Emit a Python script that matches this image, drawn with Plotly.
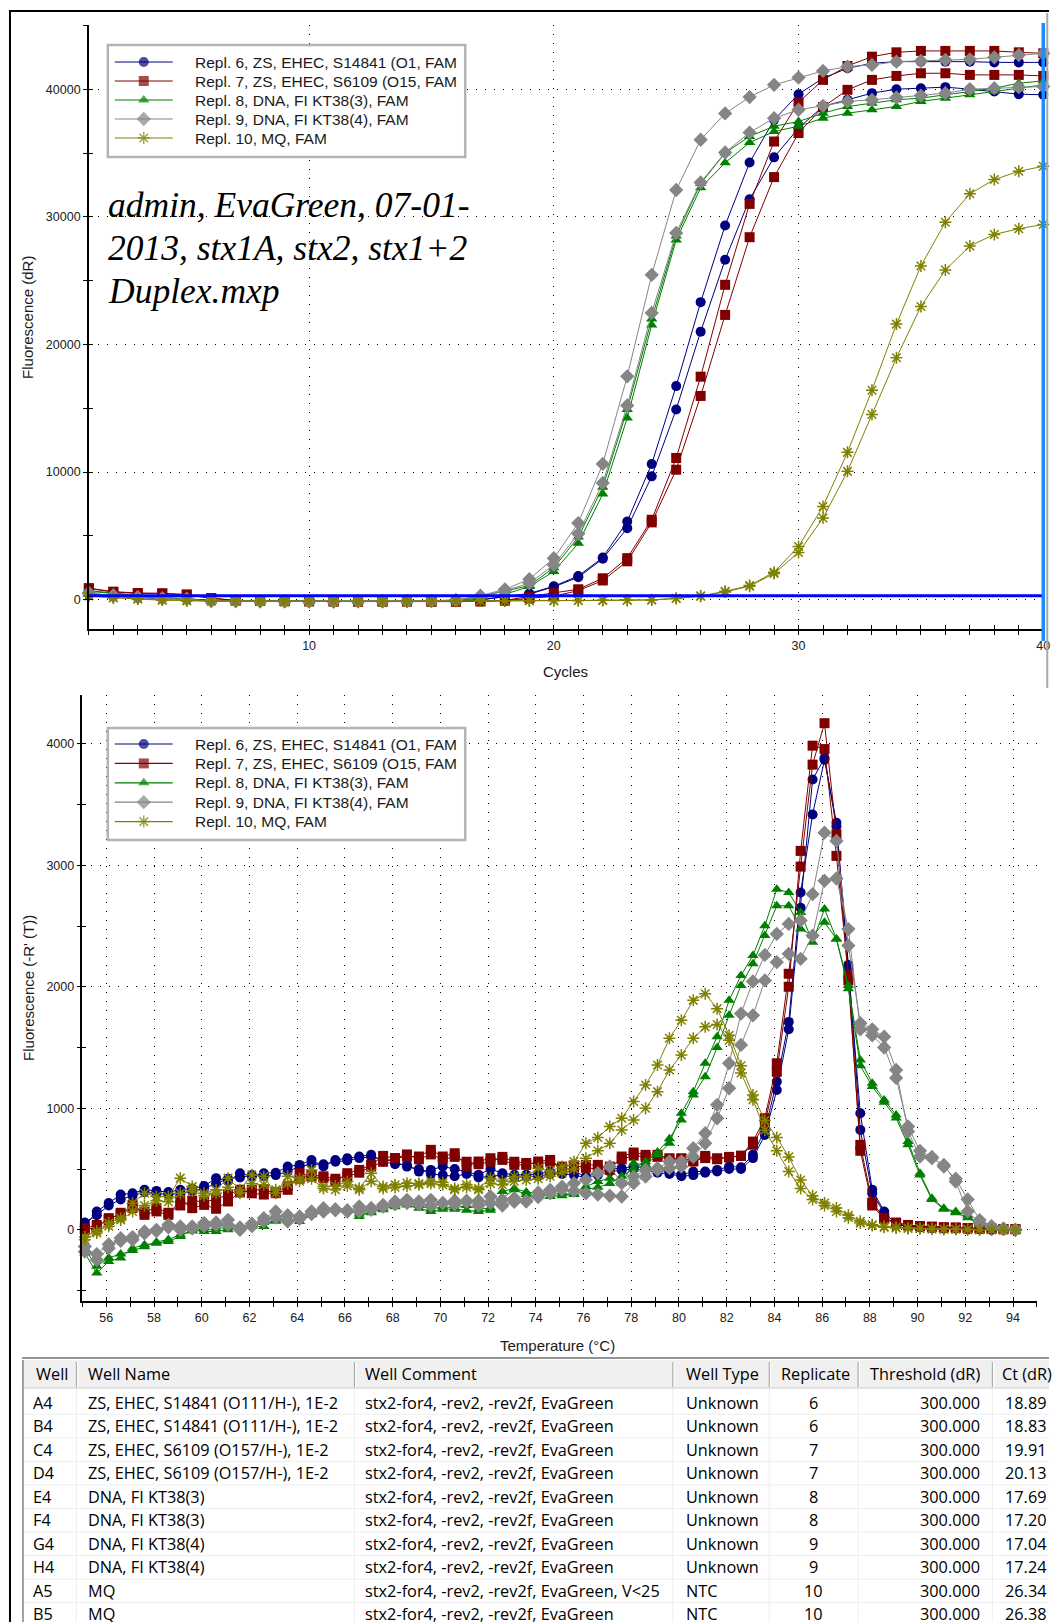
import plotly.graph_objects as go

W, H = 1056, 1622
SX = 1.005  # horizontal stretch of the pixel layout grid

# ---------------- amplification data (dR per cycle) ----------------
cycles = list(range(1, 41))

amp_A4 = [420, 260, 150, 90, 30, -90, -110, -130, -120, -140,
          -150, -140, -150, -130, -120, -100, -20, 230, 430, 1000,
          1750, 3200, 5600, 9660, 14900, 21000, 26630, 31380, 34660, 36950,
          38650, 39170, 39690, 40000, 40080, 40160, 40000, 39820, 39610, 39560]
amp_B4 = [480, 300, 180, 110, 40, -80, -100, -120, -130, -130,
          -140, -150, -140, -130, -110, -90, -10, 250, 480, 1050,
          1850, 3300, 6120, 10630, 16730, 23310, 29320, 34250, 37600, 39610,
          40860, 41640, 42030, 42160, 42160, 42160, 42160, 42100, 42100, 42100]
amp_C4 = [900, 620, 520, 500, 400, 120, -60, -100, -120, -130,
          -140, -150, -150, -140, -150, -150, -130, -60, 240, 500,
          810, 1670, 3250, 6260, 11100, 17470, 24670, 31010, 35900, 38960,
          40730, 41820, 42550, 42890, 43000, 43000, 43000, 43000, 42890, 42810]
amp_D4 = [860, 600, 480, 460, 380, 100, -70, -110, -130, -140,
          -150, -160, -150, -150, -160, -160, -140, -80, 100, 270,
          700, 1500, 3000, 6050, 10180, 15960, 22310, 28400, 33110, 36560,
          38600, 39950, 40730, 41040, 41250, 41250, 41120, 41120, 41120, 41040]
amp_E4 = [700, 520, 300, 150, 80, -100, -130, -140, -150, -150,
          -150, -140, -140, -130, -120, -60, 130, 420, 1020, 2200,
          4420, 8270, 14240, 21530, 28190, 32270, 34230, 35820, 36680, 37100,
          37730, 38120, 38380, 38650, 39040, 39300, 39560, 39820, 40080, 40340]
amp_F4 = [650, 480, 280, 140, 60, -110, -120, -130, -140, -150,
          -150, -150, -140, -130, -110, -40, 240, 650, 1100, 2500,
          4900, 8800, 14900, 22000, 28500, 32600, 35000, 36300, 37100, 37470,
          38120, 38640, 38900, 39170, 39300, 39560, 39820, 40080, 40470, 40650]
amp_G4 = [520, 320, 200, 100, 50, -100, -120, -130, -140, -150,
          -150, -140, -130, -120, -100, -40, 310, 800, 1600, 3250,
          6000, 10630, 17500, 25450, 32100, 36040, 38100, 39380, 40340, 40910,
          41430, 41770, 41900, 42160, 42210, 42290, 42340, 42500, 42680, 42810]
amp_H4 = [500, 300, 180, 90, 40, -100, -120, -130, -140, -140,
          -150, -140, -130, -120, -100, -50, 230, 700, 1280, 2720,
          5160, 9140, 15210, 22470, 28740, 32690, 35040, 36600, 37730, 38390,
          38700, 39040, 39170, 39350, 39500, 39690, 40000, 40080, 40160, 40210]
amp_A5 = [300, 150, 50, -30, -80, -110, -120, -130, -130, -130,
          -130, -130, -130, -120, -120, -110, -110, -100, -90, -80,
          -70, -60, -50, -20, 100, 290, 650, 1100, 2150, 4160,
          7300, 11540, 16410, 21590, 26150, 29580, 31800, 32920, 33570, 33960]
amp_B5 = [280, 140, 40, -40, -90, -120, -130, -140, -140, -140,
          -140, -140, -140, -130, -130, -120, -110, -100, -90, -80,
          -70, -60, -50, -30, 80, 260, 600, 1050, 2050, 3690,
          6390, 10050, 14500, 18950, 22970, 25830, 27710, 28620, 29060, 29400]

# ---------------- melt curve data (-R'(T)) ----------------
temps = [55.1, 55.6, 56.1, 56.6, 57.1, 57.6, 58.1, 58.6, 59.1, 59.6,
         60.1, 60.6, 61.1, 61.6, 62.1, 62.6, 63.1, 63.6, 64.1, 64.6,
         65.1, 65.6, 66.1, 66.6, 67.1, 67.6, 68.1, 68.6, 69.1, 69.6,
         70.1, 70.6, 71.1, 71.6, 72.1, 72.6, 73.1, 73.6, 74.1, 74.6,
         75.1, 75.6, 76.1, 76.6, 77.1, 77.6, 78.1, 78.6, 79.1, 79.6,
         80.1, 80.6, 81.1, 81.6, 82.1, 82.6, 83.1, 83.6, 84.1, 84.6,
         85.1, 85.6, 86.1, 86.6, 87.1, 87.6, 88.1, 88.6, 89.1, 89.6,
         90.1, 90.6, 91.1, 91.6, 92.1, 92.6, 93.1, 93.6, 94.1]

melt_A4 = [30, 150, 220, 290, 300, 330, 320, 310, 330, 340,
           360, 425, 400, 466, 440, 466, 470, 521, 534, 575,
           521, 575, 589, 603, 617, 560, 540, 534, 479, 493,
           521, 500, 479, 452, 500, 466, 452, 452, 460, 479,
           470, 480, 438, 470, 500, 507, 520, 510, 490, 479,
           452, 479, 480, 493, 521, 515, 617, 822, 1219, 1711,
           2776, 3418, 3869, 3350, 2148, 959, 329, 151, 41, 30,
           20, 15, 10, 10, 5, 5, 0, 0, 0]
melt_B4 = [60, 120, 200, 250, 280, 310, 300, 290, 300, 320,
           340, 380, 420, 430, 450, 440, 450, 480, 520, 540,
           540, 560, 570, 590, 600, 580, 560, 520, 500, 460,
           450, 440, 460, 430, 440, 450, 430, 440, 440, 460,
           460, 450, 430, 450, 480, 490, 500, 490, 470, 460,
           440, 450, 470, 480, 500, 500, 590, 780, 1150, 1650,
           2650, 3705, 3883, 3320, 2180, 822, 300, 140, 50, 30,
           20, 15, 10, 10, 5, 5, 0, 0, 0]
melt_C4 = [0, 20, 96, 123, 205, 123, 151, 123, 247, 178,
           205, 173, 233, 307, 329, 329, 301, 329, 466, 438,
           425, 397, 466, 493, 534, 608, 589, 603, 603, 658,
           603, 630, 521, 562, 589, 575, 534, 534, 562, 575,
           493, 510, 534, 534, 493, 603, 636, 617, 617, 589,
           589, 562, 608, 589, 595, 608, 726, 918, 1370, 2107,
           2989, 3828, 4169, 3254, 2052, 699, 225, 96, 60, 40,
           30, 25, 20, 20, 15, 10, 10, 5, 5]
melt_D4 = [10, 40, 80, 140, 180, 150, 180, 140, 200, 240,
           230, 250, 290, 330, 300, 290, 310, 360, 420, 450,
           440, 420, 440, 470, 520, 560, 590, 620, 580, 620,
           580, 600, 560, 540, 560, 600, 560, 550, 540, 560,
           520, 530, 510, 500, 520, 580, 610, 600, 600, 580,
           580, 570, 590, 580, 600, 610, 700, 880, 1300, 2000,
           3118, 3984, 3956, 3077, 2100, 650, 200, 90, 55, 35,
           30, 25, 20, 15, 15, 10, 10, 5, 5]
melt_E4 = [-192, -356, -260, -233, -151, -123, -110, -96, -55, 0,
           -14, -14, 0, 14, 27, 27, 82, 82, 69, 123,
           164, 164, 178, 110, 151, 164, 205, 205, 178, 151,
           170, 170, 160, 151, 160, 315, 342, 310, 301, 274,
           280, 300, 356, 397, 425, 384, 548, 534, 617, 712,
           959, 1137, 1370, 1589, 1888, 2093, 2257, 2503, 2803, 2776,
           2612, 2366, 2640, 2394, 2011, 1397, 1206, 1069, 945, 726,
           466, 260, 178, 151, 120, 41, 20, 10, 0]
melt_F4 = [-160, -300, -230, -200, -170, -140, -100, -80, -40, -10,
           0, 10, 20, 30, 40, 60, 70, 100, 120, 130,
           150, 170, 160, 130, 140, 180, 190, 220, 200, 170,
           190, 180, 200, 170, 180, 260, 330, 290, 280, 300,
           300, 290, 330, 350, 380, 440, 500, 560, 640, 750,
           904, 1110, 1260, 1500, 1765, 2011, 2189, 2421, 2667, 2667,
           2476, 2421, 2530, 2394, 1984, 1350, 1180, 1050, 920, 700,
           450, 250, 170, 140, 100, 40, 20, 10, 0]
melt_G4 = [-137, -247, -151, -68, -82, -14, 0, 41, 27, 27,
           55, 40, 82, 0, 30, 96, 151, 69, 110, 151,
           178, 160, 150, 192, 164, 205, 233, 247, 233, 247,
           219, 240, 240, 200, 274, 247, 260, 233, 307, 329,
           356, 384, 411, 466, 521, 384, 438, 493, 507, 562,
           562, 671, 795, 1028, 1370, 1779, 2044, 2262, 2435, 2517,
           2546, 2762, 3268, 3200, 2339, 1700, 1650, 1589, 1315, 808,
           603, 589, 534, 397, 151, 55, 27, 10, 0]
melt_H4 = [-180, -200, -120, -90, -60, -30, -10, 20, 0, 10,
           30, 60, 40, 20, 50, 70, 100, 120, 90, 130,
           150, 170, 160, 150, 180, 190, 210, 220, 210, 200,
           220, 210, 230, 240, 220, 200, 230, 240, 270, 300,
           330, 320, 300, 290, 280, 274, 384, 438, 493, 507,
           520, 600, 712, 918, 1165, 1521, 1765, 2052, 2202, 2271,
           2230, 2421, 2872, 2891, 2475, 1650, 1600, 1500, 1250, 850,
           650, 600, 520, 420, 250, 80, 30, 10, 0]
melt_A5 = [-82, -27, 55, 96, 219, 301, 274, 274, 425, 356,
           301, 329, 425, 329, 452, 438, 301, 440, 420, 493,
           356, 360, 397, 342, 466, 356, 370, 384, 380, 397,
           390, 329, 370, 340, 425, 400, 438, 438, 507, 480,
           521, 562, 712, 760, 849, 918, 1055, 1192, 1356, 1576,
           1724, 1888, 1943, 1820, 1600, 1350, 1110, 900, 760, 600,
           410, 280, 220, 180, 120, 70, 41, 27, 20, 15,
           10, 10, 5, 5, 5, 0, 0, 0, 0]
melt_B5 = [-60, -10, 30, 80, 150, 200, 240, 230, 300, 320,
           280, 300, 350, 300, 380, 370, 330, 380, 400, 420,
           340, 330, 360, 330, 400, 340, 350, 360, 370, 380,
           370, 340, 350, 330, 380, 370, 400, 410, 420, 440,
           470, 500, 589, 650, 712, 822, 904, 1000, 1137, 1315,
           1439, 1576, 1670, 1690, 1560, 1290, 1070, 820, 650, 480,
           340, 250, 200, 150, 100, 55, 35, 20, 15, 10,
           10, 5, 5, 5, 0, 0, 0, 0, 0]

# ---------------- well table ----------------
wells = ["A4", "B4", "C4", "D4", "E4", "F4", "G4", "H4", "A5", "B5"]
well_names = ["ZS, EHEC, S14841 (O111/H-), 1E-2", "ZS, EHEC, S14841 (O111/H-), 1E-2",
              "ZS, EHEC, S6109 (O157/H-), 1E-2", "ZS, EHEC, S6109 (O157/H-), 1E-2",
              "DNA, FI KT38(3)", "DNA, FI KT38(3)", "DNA, FI KT38(4)", "DNA, FI KT38(4)",
              "MQ", "MQ"]
well_comments = ["stx2-for4, -rev2, -rev2f, EvaGreen"] * 8 + \
                ["stx2-for4, -rev2, -rev2f, EvaGreen, V<25", "stx2-for4, -rev2, -rev2f, EvaGreen"]
well_types = ["Unknown"] * 8 + ["NTC", "NTC"]
replicates = [6, 6, 7, 7, 8, 8, 9, 9, 10, 10]
thresholds = [300.0] * 10
ct_values = [18.89, 18.83, 19.91, 20.13, 17.69, 17.20, 17.04, 17.24, 26.34, 26.38]
table_headers = ["Well", "Well Name", "Well Comment", "Well Type", "Replicate",
                 "Threshold (dR)", "Ct (dR)"]

amp_series = [amp_A4, amp_B4, amp_C4, amp_D4, amp_E4, amp_F4, amp_G4, amp_H4, amp_A5, amp_B5]
melt_series = [melt_A4, melt_B4, melt_C4, melt_D4, melt_E4, melt_F4, melt_G4, melt_H4, melt_A5, melt_B5]

legend_reps = [6, 7, 8, 9, 10]
legend_labels = ["Repl. 6, ZS, EHEC, S14841 (O1, FAM",
                 "Repl. 7, ZS, EHEC, S6109 (O15, FAM",
                 "Repl. 8, DNA, FI KT38(3), FAM",
                 "Repl. 9, DNA, FI KT38(4), FAM",
                 "Repl. 10, MQ, FAM"]
run_info_lines = ["admin, EvaGreen, 07-01-", "2013, stx1A, stx2, stx1+2", "Duplex.mxp"]

STYLE = {
    6: dict(color="#000080", symbol="circle", size=10),
    7: dict(color="#800000", symbol="square", size=10),
    8: dict(color="#008000", symbol="triangle-up", size=10),
    9: dict(color="#858585", symbol="diamond", size=11),
    10: dict(color="#808000", symbol="asterisk-open", size=10),
}

SANS = "Liberation Sans, Arial, sans-serif"
TXT = "#1a1a1a"


def X(v):
    """Horizontal pixel position on the layout grid."""
    return min(v * SX, W)


def marker_for(rep, sizes=None):
    st = STYLE[rep]
    return dict(symbol=st["symbol"], color=st["color"],
                size=st["size"] if sizes is None else sizes,
                line=dict(color=st["color"], width=1.5 if "asterisk" in st["symbol"] else 0))


def dom_x(a, b):
    return [X(a) / W, X(b) / W]


def dom_y(top, bottom):
    return [1 - bottom / H, 1 - top / H]


fig = go.Figure()

# amplification curves
for i, well in enumerate(wells):
    rep = replicates[i]
    fig.add_trace(go.Scatter(x=cycles, y=amp_series[i], mode="lines+markers", name=well,
                             line=dict(color=STYLE[rep]["color"], width=1),
                             marker=marker_for(rep), cliponaxis=False,
                             xaxis="x", yaxis="y", showlegend=False, hoverinfo="skip"))
# threshold line
fig.add_trace(go.Scatter(x=[cycles[0], cycles[-1]], y=[thresholds[0], thresholds[0]],
                         mode="lines", line=dict(color="#0000ff", width=3),
                         xaxis="x", yaxis="y", showlegend=False, hoverinfo="skip",
                         cliponaxis=False))

# melt curves
for i, well in enumerate(wells):
    rep = replicates[i]
    fig.add_trace(go.Scatter(x=temps, y=melt_series[i], mode="lines+markers", name=well,
                             line=dict(color=STYLE[rep]["color"], width=1),
                             marker=marker_for(rep), cliponaxis=False,
                             xaxis="x2", yaxis="y2", showlegend=False, hoverinfo="skip"))

# empty traces so that the tick-mirroring axes exist
for xa, ya in [("x4", "y"), ("x", "y4"), ("x5", "y2"), ("x2", "y5")]:
    fig.add_trace(go.Scatter(x=[None], y=[None], xaxis=xa, yaxis=ya,
                             showlegend=False, hoverinfo="skip"))

shapes = []
annotations = []


def pix_shape(x0, x1, **kw):
    d = dict(xref="x3", yref="y3", x0=X(x0), x1=X(x1))
    d.update(kw)
    shapes.append(d)


def pix_text(x, y, text, size=15.5, family=SANS, color=TXT, xanchor="left",
             yanchor="middle", **kw):
    annotations.append(dict(xref="x3", yref="y3", x=X(x), y=y, text=text,
                            showarrow=False, xanchor=xanchor, yanchor=yanchor,
                            font=dict(size=size, family=family, color=color), **kw))


# legend boxes drawn for both charts
for box_top, row0, pitch in [(45, 62, 19.0), (728, 744, 19.4)]:
    pix_shape(108, 466, type="rect", y0=box_top, y1=box_top + 112,
              fillcolor="white", line=dict(color="#b4b4b4", width=2.5), layer="below")
    for j, rep in enumerate(legend_reps):
        yy = row0 + pitch * j
        fig.add_trace(go.Scatter(x=[X(115), X(144), X(173)], y=[yy, yy, yy],
                                 mode="lines+markers",
                                 line=dict(color=STYLE[rep]["color"], width=1.2),
                                 marker=marker_for(rep, sizes=[0, STYLE[rep]["size"], 0]),
                                 xaxis="x3", yaxis="y3", showlegend=False,
                                 hoverinfo="skip", cliponaxis=False))
        pix_text(193, yy, legend_labels[j], size=15.5)

# run information text, one line each
for k, line in enumerate(run_info_lines):
    pix_text(106, 204.5 + 43.2 * k, f"<i>{line}</i>", size=35.5,
             family="Liberation Serif, Times New Roman, serif", color="#000")

# axis titles
pix_text(27, 317, "Fluorescence (dR)", size=15, xanchor="center", textangle=-90)
pix_text(566, 671, "Cycles", size=15, xanchor="center")
pix_text(28, 988, "Fluorescence (-R' (T))", size=15, xanchor="center", textangle=-90)
pix_text(558, 1345, "Temperature (°C)", size=15, xanchor="center")

# cursor at the last cycle
shapes.append(dict(type="line", xref="x domain", yref="y3", x0=1, x1=1, y0=23, y1=641,
                   line=dict(color="#1a8cff", width=3.5), layer="above"))

# window frame
pix_shape(9, W, type="line", y0=11, y1=11, line=dict(color="#000", width=2), layer="above")
pix_shape(10, 10, type="line", y0=10, y1=H, line=dict(color="#000", width=2), layer="above")
pix_shape(1049, 1049, type="line", y0=13, y1=688, line=dict(color="#a8a8a8", width=2), layer="above")
pix_shape(22, W, type="line", y0=1358, y1=1358, line=dict(color="#707070", width=1.5), layer="above")

# ---------------- table ----------------
col_bounds = [23, 76.5, 355, 674, 770.5, 859.5, 994]
head_top, head_bot = 1360, 1388
row_y0, row_h = 1402.5, 23.55
pix_shape(23, W, type="rect", y0=head_top, y1=head_bot, fillcolor="#f0f0f0",
          line=dict(width=0), layer="above")
pix_shape(23, W, type="line", y0=head_bot, y1=head_bot,
          line=dict(color="#d0d0d0", width=1), layer="above")
for xb in col_bounds[1:]:
    pix_shape(xb, xb, type="line", y0=head_top + 2, y1=head_bot - 1,
              line=dict(color="#a0a0a0", width=1), layer="above")
    pix_shape(xb + 1.5, xb + 1.5, type="line", y0=head_top + 2, y1=head_bot - 1,
              line=dict(color="#ffffff", width=1), layer="above")
    pix_shape(xb, xb, type="line", y0=head_bot + 1, y1=H,
              line=dict(color="#eeeeee", width=1), layer="above")
for r in range(len(wells)):
    yb = row_y0 + row_h * r + row_h / 2
    pix_shape(23, W, type="line", y0=yb, y1=yb,
              line=dict(color="#eeeeee", width=1), layer="above")
pix_shape(23, 23, type="line", y0=head_top, y1=H,
          line=dict(color="#828282", width=1.5), layer="above")

TFONT = "Open Sans, Noto Sans, sans-serif"
TSIZE = 16.3
head_x = [34, 86, 364, 685, 780, 869, 1002]
for hx, htxt in zip(head_x, table_headers):
    pix_text(hx, (head_top + head_bot) / 2, htxt, size=TSIZE, family=TFONT, color="#000")

for r in range(len(wells)):
    yy = row_y0 + row_h * r
    pix_text(31, yy, wells[r], size=TSIZE, family=TFONT, color="#000")
    pix_text(86, yy, well_names[r], size=TSIZE, family=TFONT, color="#000")
    pix_text(364, yy, well_comments[r], size=TSIZE, family=TFONT, color="#000")
    pix_text(685, yy, well_types[r], size=TSIZE, family=TFONT, color="#000")
    pix_text(815, yy, str(replicates[r]), size=TSIZE, family=TFONT, color="#000",
             xanchor="center")
    pix_text(984, yy, f"{thresholds[r]:.3f}", size=TSIZE, family=TFONT, color="#000",
             xanchor="right")
    pix_text(1056, yy, f"{ct_values[r]:.2f}", size=TSIZE, family=TFONT, color="#000",
             xanchor="right")

# ---------------- axes ----------------
GRID = dict(showgrid=True, gridcolor="#000", gridwidth=1, griddash="1px,8px")
TICKF = dict(family=SANS, size=12.5, color="#202020")


def main_axis(domain, rng, dtick, minor_dtick, anchor, **kw):
    d = dict(domain=domain, range=rng, anchor=anchor, tickmode="linear", tick0=0, dtick=dtick,
             tickformat="d", ticklabeloverflow="allow",
             ticks="outside", ticklen=4, tickwidth=1, tickcolor="#000",
             minor=dict(dtick=minor_dtick, tick0=0, ticks="outside", ticklen=4,
                        tickwidth=1, tickcolor="#000", showgrid=False),
             showline=True, linecolor="#000", linewidth=1.5, zeroline=False,
             tickfont=TICKF, fixedrange=True)
    d.update(GRID)
    d.update(kw)
    return d


def mirror_axis(base, rng, dtick, minor_dtick, anchor):
    return dict(overlaying=base, range=rng, anchor=anchor, tickmode="linear", tick0=0,
                dtick=dtick, ticks="inside", ticklen=4, tickwidth=1, tickcolor="#000",
                minor=dict(dtick=minor_dtick, tick0=0, ticks="inside", ticklen=4,
                           tickwidth=1, tickcolor="#000", showgrid=False),
                showticklabels=False, showgrid=False, showline=False, zeroline=False,
                fixedrange=True)


top_x_rng = [1, 40]
top_y_rng = [-2304, 45031]
bot_x_rng = [55, 95]
bot_y_rng = [-586, 4401]

fig.update_layout(
    width=W, height=H,
    margin=dict(l=0, r=0, t=0, b=0),
    paper_bgcolor="white", plot_bgcolor="rgba(0,0,0,0)",
    showlegend=False,
    xaxis=main_axis(dom_x(89, 1045), top_x_rng, 10, 1, "y"),
    yaxis=main_axis(dom_y(25, 629), top_y_rng, 10000, 5000, "x"),
    xaxis2=main_axis(dom_x(82.6, 1038.6), bot_x_rng, 2, 1, "y2"),
    yaxis2=main_axis(dom_y(695, 1301), bot_y_rng, 1000, 500, "x2"),
    xaxis3=dict(domain=[0, 1], range=[0, W], visible=False, anchor="y3", fixedrange=True),
    yaxis3=dict(domain=[0, 1], range=[H, 0], visible=False, anchor="x3", fixedrange=True),
    xaxis4=mirror_axis("x", top_x_rng, 10, 1, "y"),
    yaxis4=mirror_axis("y", top_y_rng, 10000, 5000, "x"),
    xaxis5=mirror_axis("x2", bot_x_rng, 2, 1, "y2"),
    yaxis5=mirror_axis("y2", bot_y_rng, 1000, 500, "x2"),
    shapes=shapes,
    annotations=annotations,
)

fig.write_html("out.html")
